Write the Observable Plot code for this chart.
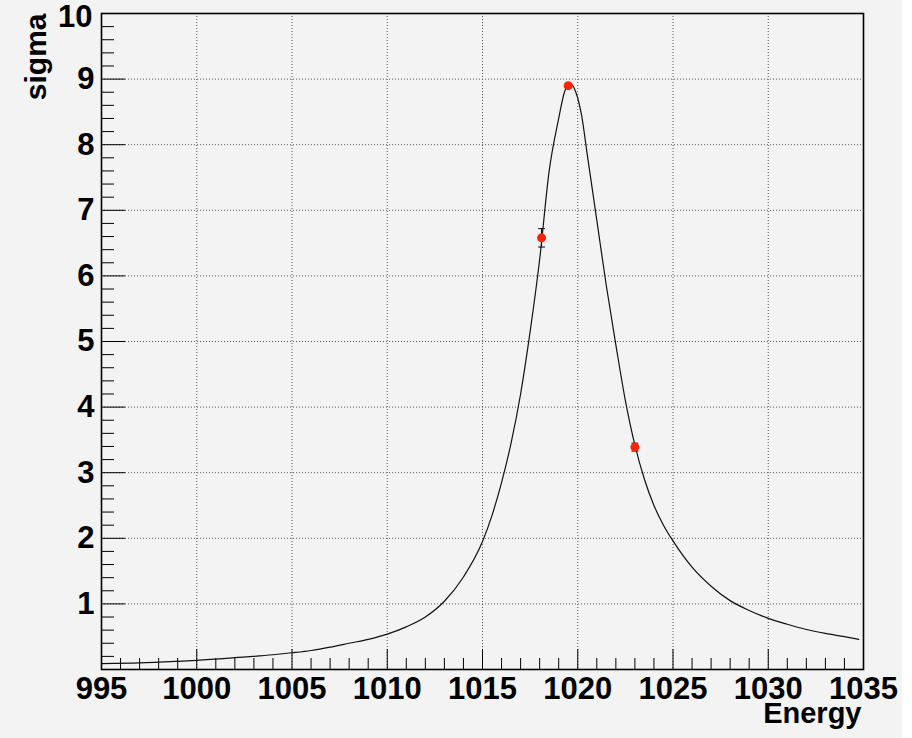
<!DOCTYPE html>
<html>
<head>
<meta charset="utf-8">
<script src="https://cdn.jsdelivr.net/npm/d3@7"></script>
<script src="https://cdn.jsdelivr.net/npm/@observablehq/plot@0.6"></script>
<style>
  html, body { margin: 0; padding: 0; background: #ffffff; }
  #chart svg { display: block; background: #f3f3f3; }
</style>
</head>
<body>
<div id="chart"></div>
<script>
// Fitted curve
const curveEnergy = [995, 997, 999, 1000, 1002, 1004, 1005, 1006, 1007, 1008,
  1009, 1010, 1011, 1012, 1013, 1014, 1015, 1015.5, 1016, 1016.5,
  1017, 1017.5, 1018, 1018.5, 1019, 1019.3, 1019.6, 1019.9, 1020.2, 1020.5,
  1021, 1021.5, 1022, 1022.5, 1023, 1023.5, 1024, 1024.5, 1025, 1026,
  1027, 1028, 1029, 1030, 1031, 1032, 1033, 1034, 1034.75];
const curveSigma = [0.09, 0.10, 0.125, 0.14, 0.18, 0.225, 0.255, 0.29, 0.34, 0.40,
  0.46, 0.54, 0.65, 0.80, 1.04, 1.41, 1.95, 2.35, 2.85, 3.45,
  4.2, 5.15, 6.25, 7.6, 8.4, 8.8, 8.93, 8.8, 8.45, 7.85,
  6.85, 5.85, 4.95, 4.1, 3.42, 2.9, 2.5, 2.2, 1.96, 1.56,
  1.27, 1.05, 0.90, 0.78, 0.69, 0.61, 0.55, 0.50, 0.46];

// Measured points with errors
const pointEnergy = [1018.1, 1019.5, 1023.0];
const pointSigma = [6.58, 8.9, 3.39];
const pointError = [0.14, 0.03, 0.06];

// Axis ticks
const xTickValues = [995, 1000, 1005, 1010, 1015, 1020, 1025, 1030, 1035];
const yTickValues = [1, 2, 3, 4, 5, 6, 7, 8, 9, 10];
const xTitle = "Energy";
const yTitle = "sigma";

const curve = curveEnergy.map((e, i) => ({E: e, s: curveSigma[i]}));
const points = pointEnergy.map((e, i) => ({E: e, s: pointSigma[i], err: pointError[i]}));
const xMinor = d3.range(995, 1035.5, 1).filter(v => !xTickValues.includes(v));
const yMinor = d3.range(0.2, 10, 0.2).map(v => +v.toFixed(1)).filter(v => !yTickValues.includes(v));

const W = 902, H = 738;
const mL = 101, mR = 39, mT = 13, mB = 69;
const plotW = W - mL - mR, plotH = H - mT - mB;
const font = "'Liberation Sans', Arial, Helvetica, sans-serif";
const labelStyle = {fontSize: 31, fontWeight: "bold", fill: "#000"};

const capShape = {draw(ctx, l) { ctx.moveTo(-l / 2, 0); ctx.lineTo(l / 2, 0); }};

const chart = Plot.plot({
  width: W,
  height: H,
  marginLeft: mL,
  marginRight: mR,
  marginTop: mT,
  marginBottom: mB,
  style: {fontFamily: font, background: "#f3f3f3", color: "#000"},
  x: {domain: [995, 1035], axis: null},
  y: {domain: [0, 10], axis: null},
  marks: [
    // grid
    Plot.ruleX(xTickValues.slice(1, -1), {stroke: "#555", strokeWidth: 1, strokeDasharray: "1,2"}),
    Plot.ruleY(yTickValues.slice(0, -1), {stroke: "#555", strokeWidth: 1, strokeDasharray: "1,2"}),
    // ticks (inward, ROOT style)
    Plot.ruleX(xMinor, {stroke: "#000", strokeWidth: 1, insetTop: plotH - 11}),
    Plot.ruleX(xTickValues, {stroke: "#000", strokeWidth: 1, insetTop: plotH - 20}),
    Plot.ruleY(yMinor, {stroke: "#000", strokeWidth: 1, insetRight: plotW - 13}),
    Plot.ruleY(yTickValues, {stroke: "#000", strokeWidth: 1, insetRight: plotW - 24}),
    // tick labels
    Plot.axisX({ticks: xTickValues, tickSize: 0, tickPadding: 7, tickFormat: d => String(d),
      label: null, ...labelStyle}),
    Plot.axisY({ticks: yTickValues.filter(v => v < 10), tickSize: 0, tickPadding: 7, tickFormat: d => String(d),
      label: null, ...labelStyle}),
    Plot.axisY({ticks: yTickValues.filter(v => v >= 10), tickSize: 0, tickPadding: 9, tickFormat: d => String(d),
      label: null, dy: 4, ...labelStyle}),
    // fitted curve
    Plot.line(curve, {x: "E", y: "s", curve: "monotone-x", stroke: "#111", strokeWidth: 1.2}),
    // error bars
    Plot.ruleX(points, {x: "E", y1: d => d.s - d.err, y2: d => d.s + d.err, stroke: "#000", strokeWidth: 1}),
    Plot.vector(points, {x: "E", y: d => d.s - d.err, length: 6, rotate: 0, anchor: "start", shape: capShape, stroke: "#000", strokeWidth: 1}),
    Plot.vector(points, {x: "E", y: d => d.s + d.err, length: 6, rotate: 0, anchor: "start", shape: capShape, stroke: "#000", strokeWidth: 1}),
    // points
    Plot.dot(points, {x: "E", y: "s", r: 4.5, fill: "#ff2200", stroke: "none"}),
    // frame
    Plot.frame({stroke: "#000", strokeWidth: 1.6}),
    // axis titles
    Plot.text([xTitle], {text: d => d, frameAnchor: "bottom-right", textAnchor: "end", lineAnchor: "bottom",
      dx: -2, dy: 53, fontSize: 29, fontWeight: "bold", fill: "#000"}),
    Plot.text([yTitle], {text: d => d, frameAnchor: "top-left", textAnchor: "end", lineAnchor: "bottom",
      rotate: -90, dx: -56, dy: 0, fontSize: 30, fontWeight: "bold", fill: "#000"})
  ]
});
document.getElementById("chart").appendChild(chart);
</script>
</body>
</html>
